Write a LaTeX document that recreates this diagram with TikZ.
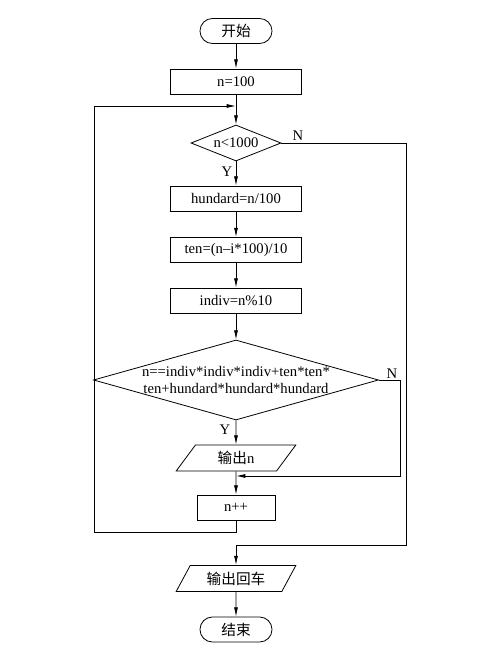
\documentclass[tikz,border=0pt]{standalone}
\usepackage{fontspec}
\setmainfont{Liberation Serif}
\newfontfamily\cjk{Noto Sans CJK SC}
\usetikzlibrary{shapes.geometric}
\usetikzlibrary{arrows.meta}

\begin{document}
\begin{tikzpicture}[
            x=0.75pt, y=-0.75pt,
            font=\fontsize{11}{13}\selectfont,
            flowline/.style={color=black, line width=0.6pt},
            arrowline/.style={flowline, -{Latex[length=7pt, width=3pt]}},
            terminal/.style={draw, flowline, rectangle, rounded corners=9.3pt, minimum width=54pt, minimum height=18.75pt, inner sep=1pt},
            process/.style={draw, flowline, rectangle, minimum width=98.25pt, minimum height=18.75pt, inner sep=1pt},
            decision/.style={draw, flowline, diamond, inner sep=0pt, aspect=2.5},
            inout/.style={draw, flowline, trapezium, trapezium left angle=60, trapezium right angle=120, trapezium stretches=true, minimum width=90pt, minimum height=19.5pt, inner sep=1pt},
            branch/.style={align=center}
        ]
            \useasboundingbox (0,0) rectangle (481,649);

            % blocks
            \node[terminal] (start) at (236, 31) {{\cjk 开始}};
            \node[process] (init) at (236, 81.5) {n=100};
            \node[decision, minimum width=67.5pt, minimum height=27pt] (loop) at (236, 143) {n<1000};
            \node[process] (hundard) at (236, 198.5) {hundard=n/100};
            \node[process] (ten) at (236, 250) {ten=(n\textendash i*100)/10};
            \node[process] (indiv) at (236, 300.5) {indiv=n\%10};
            \node[decision, minimum width=213.75pt, minimum height=60pt] (check) at (236, 380) {};
            \node[branch] (checktext) at (check.center) {n==indiv*indiv*indiv+ten*ten*\\ten+hundard*hundard*hundard};
            \node[inout] (outn) at (236, 458) {{\cjk 输出}n};
            \node[process, minimum width=58.5pt] (incr) at (236, 507.5) {n++};
            \node[inout] (outcr) at (236, 578.5) {{\cjk 输出回车}};
            \node[terminal] (stop) at (236, 629.5) {{\cjk 结束}};

            % joins
            \coordinate (join) at (236, 106);
            \coordinate (merge) at (236, 476);

            % main column
            \draw[arrowline] (start) -- (init);
            \draw[arrowline] (init) -- (loop);
            \draw[arrowline] (loop) -- (hundard);
            \draw[arrowline] (hundard) -- (ten);
            \draw[arrowline] (ten) -- (indiv);
            \draw[arrowline] (indiv) -- (check);
            \draw[arrowline] (check) -- (outn);
            \draw[arrowline] (outn) -- (incr);
            \draw[arrowline] (outcr) -- (stop);

            % back to the loop test
            \draw[arrowline] (incr.south) |- (236, 532) -| (94, 106) -- (join);

            % not equal
            \draw[arrowline] (check.east) -| (400, 476) -- (merge);

            % leaving the loop
            \draw[arrowline] (loop.east) -| (406, 545) -| (outcr.north);

            % branch labels
            \node[branch] (n1) at (298, 136) {N};
            \node[branch] (y1) at (227, 172) {Y};
            \node[branch] (n2) at (392, 374) {N};
            \node[branch] (y2) at (225, 430) {Y};

        \end{tikzpicture}
\end{document}
